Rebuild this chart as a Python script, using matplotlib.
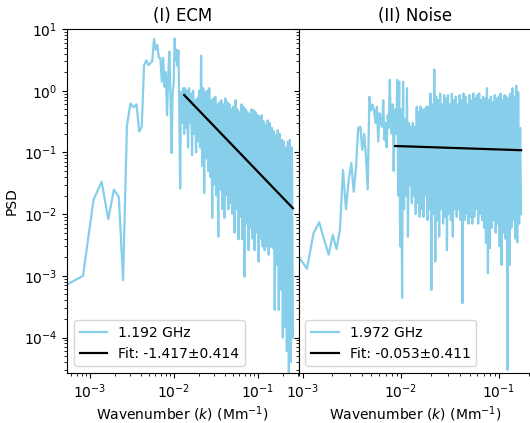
import numpy as np
import matplotlib
matplotlib.use("Agg")
import matplotlib.pyplot as plt

# ---- (I) ECM, 1.192 GHz ----
ecm_dk = 2.75e-4          # wavenumber spacing (Mm^-1)
# resolved low-k part: PSD at k = n*dk for n = 2, 3, ...
ecm_n0 = 2
ecm_low = [7.4e-4, 1.0e-3, 0.017, 0.0335, 0.0083, 0.025, 0.019, 8.5e-4, 0.27, 0.62,
           0.54, 0.6, 0.217, 0.26, 2.6, 3.1, 2.6, 2.8, 3.0, 6.9,
           4.6, 5.5, 3.4, 3.4, 1.4, 3.4, 1.16, 2.0, 0.4, 1.7,
           4.3, 0.75, 0.098, 0.95, 1.3, 7.0, 3.1, 4.6, 2.5, 4.5,
           0.55, 0.026, 0.95, 0.6, 0.3, 1.1, 0.2]
# dense high-k part: alternating peak / trough readings across the band
ecm_band_k = (0.0135, 0.26)
ecm_hi = [1.1, 1.0, 1.1, 0.9, 1.0, 0.7, 0.75, 1.0, 3.7, 1.1,
          0.95, 1.0, 1.1, 0.7, 0.75, 0.8, 0.6, 0.65, 0.7, 0.6,
          0.75, 0.65, 0.6, 0.5, 0.55, 0.7, 0.5, 0.45, 0.6, 0.55,
          0.5, 0.45, 0.42, 0.5, 0.48, 0.45, 0.4, 0.38, 0.4, 0.32,
          0.28, 0.33, 0.3, 0.25, 0.22, 0.19, 0.23, 0.2, 0.16, 0.15,
          0.12, 0.15, 0.16, 0.12]
ecm_lo = [0.25, 0.12, 0.3, 0.09, 0.2, 0.1, 0.15, 0.12, 0.06, 0.022,
          0.08, 0.05, 0.04, 0.0087, 0.03, 0.02, 0.0043, 0.025, 0.012, 0.0087,
          0.02, 0.012, 0.015, 0.01, 0.005, 0.012, 0.0039, 0.009, 0.0039, 0.00097,
          0.007, 0.0026, 0.006, 0.004, 0.0026, 0.005, 0.0017, 0.004, 0.003, 0.0026,
          0.003, 0.0022, 0.003, 0.0028, 0.00028, 0.0015, 0.00028, 0.0006, 0.0001, 0.00015,
          6e-5, 2.7e-5, 4e-5, 1e-4]
ecm_fit_slope, ecm_fit_err = -1.417, 0.414
ecm_fit_k = (0.0132, 0.26)
ecm_fit_start = 0.85

# ---- (II) Noise, 1.972 GHz ----
noise_dk = 1.83e-4
noise_n0 = 5
noise_low = [0.002, 0.0013, 0.0049, 0.0074, 0.0038, 0.0022, 0.0046, 0.0027, 0.0055, 0.052,
             0.012, 0.036, 0.067, 0.023, 0.058, 0.25, 0.26, 0.11, 0.2, 0.085,
             0.025, 0.8, 0.48, 0.59, 0.48, 0.3, 0.55, 0.15, 0.43, 0.3,
             0.26, 0.7, 0.16, 0.3, 0.12, 0.4, 0.25, 1.5, 0.3, 0.2,
             0.6, 0.05, 0.3, 0.5, 0.2]
noise_band_k = (9.15e-3, 0.168)
noise_hi = [1.5, 1.4, 0.5, 1.4, 0.35, 1.1, 0.3, 0.26, 0.3, 0.26,
            0.55, 0.45, 0.55, 0.5, 0.5, 0.55, 0.55, 0.9, 0.6, 2.2,
            0.8, 0.7, 0.9, 0.6, 0.85, 0.75, 0.85, 0.6, 0.9, 0.7,
            0.8, 0.6, 0.85, 0.7, 0.9, 0.8, 0.6, 0.85, 0.7, 0.9,
            0.75, 0.85, 0.9, 0.7, 0.8, 0.75, 1.1, 0.7, 0.8, 0.65,
            0.85, 0.75, 0.8, 0.9, 0.7, 0.85, 0.8, 0.75, 0.9, 1.1,
            0.8, 1.2, 0.95, 0.25]
noise_lo = [0.02, 0.003, 0.00044, 0.012, 0.02, 0.0043, 0.03, 0.015, 0.02, 0.01,
            0.015, 0.009, 0.012, 0.009, 0.02, 0.008, 0.012, 0.00059, 0.01, 0.0017,
            0.008, 0.0043, 0.012, 0.007, 0.009, 0.0026, 0.01, 0.008, 0.0043, 0.012,
            0.009, 0.012, 0.008, 0.00036, 0.008, 0.01, 0.007, 0.009, 0.007, 0.009,
            0.012, 0.007, 0.01, 0.008, 0.006, 0.0034, 0.0011, 0.0028, 0.006, 0.008,
            0.005, 0.007, 0.003, 0.0015, 0.005, 0.004, 3e-5, 0.0015, 0.006, 0.008,
            0.004, 0.0035, 0.007, 0.01]
noise_fit_slope, noise_fit_err = -0.053, 0.411
noise_fit_k = (8.7e-3, 0.168)
noise_fit_start = 0.127


def spectrum(dk, n0, low, band_k, hi, lo):
    k_low = dk * np.arange(n0, n0 + len(low))
    k_band = np.geomspace(band_k[0], band_k[1], 2 * len(hi))
    band = np.empty(2 * len(hi))
    band[0::2] = hi
    band[1::2] = lo
    return np.concatenate([k_low, k_band]), np.concatenate([low, band])


def fit_line(k_range, start, slope):
    k = np.array(k_range)
    return k, start * (k / k[0]) ** slope


W, H = 530, 423
fig = plt.figure(figsize=(W / 100, H / 100), dpi=100)
bottom, top = 1 - 373 / H, 1 - 29 / H
axL = fig.add_axes([67 / W, bottom, (298.5 - 67) / W, top - bottom])
axR = fig.add_axes([298.5 / W, bottom, (532 - 298.5) / W, top - bottom], sharey=axL)

blue = "skyblue"
panels = [
    (axL, "(I) ECM", "1.192 GHz",
     (ecm_dk, ecm_n0, ecm_low, ecm_band_k, ecm_hi, ecm_lo),
     ecm_fit_k, ecm_fit_start, ecm_fit_slope, ecm_fit_err, (5.32e-4, 0.303)),
    (axR, "(II) Noise", "1.972 GHz",
     (noise_dk, noise_n0, noise_low, noise_band_k, noise_hi, noise_lo),
     noise_fit_k, noise_fit_start, noise_fit_slope, noise_fit_err, (9.0e-4, 0.217)),
]

for ax, title, freq, spec, fk, fs, slope, err, xlim in panels:
    k, p = spectrum(*spec)
    ax.plot(k, p, color=blue, lw=1.6, label=freq)
    kf, pf = fit_line(fk, fs, slope)
    ax.plot(kf, pf, color="black", lw=1.6, label=f"Fit: {slope:.3f}\u00b1{err:.3f}")
    ax.set_xscale("log")
    ax.set_yscale("log")
    ax.set_xlim(*xlim)
    ax.set_title(title, fontsize=12)
    ax.set_xlabel("Wavenumber ($k$) (Mm$^{-1}$)", labelpad=2)
    ax.legend(loc="lower left")

axL.set_ylim(2.66e-5, 10)
axL.set_ylabel("PSD")
axR.tick_params(axis="y", labelleft=False)

fig.savefig("out.png", dpi=100)
